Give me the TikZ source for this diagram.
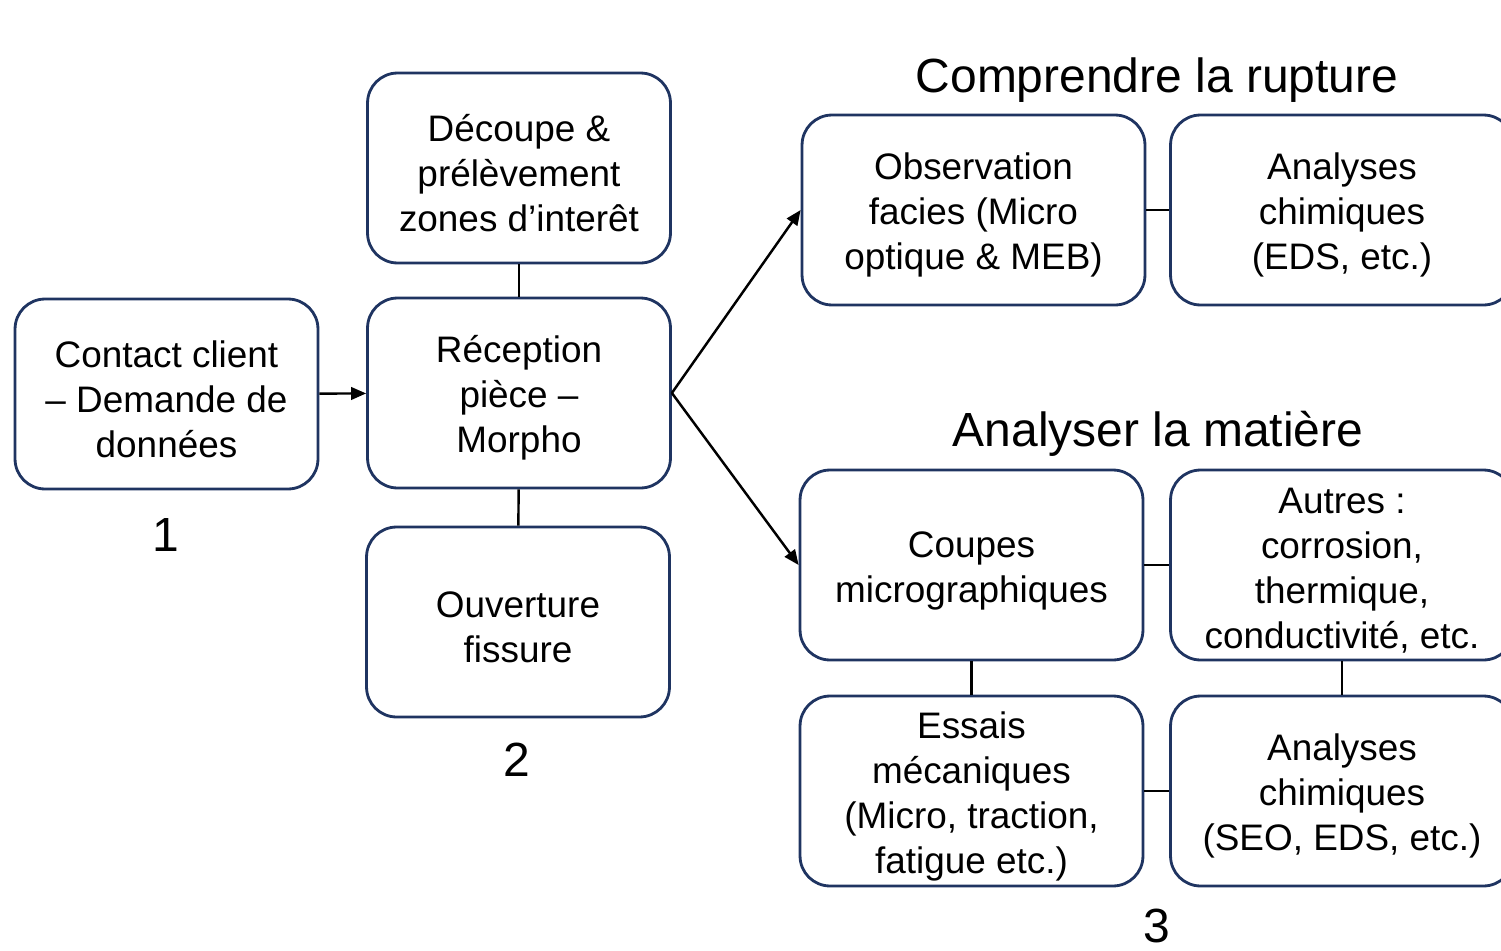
\documentclass[tikz,border=0pt]{standalone}
\usepackage{fontspec}
\setmainfont{Liberation Sans}
\usetikzlibrary{arrows.meta}
\definecolor{navy}{HTML}{1F3461}
\newcommand\tp{\rule{0pt}{21pt}}
\tikzset{
  box/.style={draw=navy, line width=1.6pt, rounded corners=0.6cm, minimum width=6.06cm, minimum height=3.8cm, align=center, inner sep=0pt, font=\fontsize{21}{25.6}\selectfont},
  wbox/.style={box, minimum width=6.86cm},
  title/.style={font=\fontsize{27.3}{32}\selectfont, inner sep=0pt},
  link/.style={line width=1.4pt, black},
  arr/.style={link, -{Triangle[length=0.3cm, width=0.25cm]}}
}
\begin{document}
\begin{tikzpicture}[x=0.02cm,y=-0.02cm]
\useasboundingbox (0,0) rectangle (1501,950);
\clip (0,0) rectangle (1501,950);
\node[box] (contact) at (166.5,394) {\tp Contact client\\– Demande de\\données};
\node[box] (decoupe) at (519,168) {\tp Découpe \&\\prélèvement\\zones d’interêt};
\node[box] (recep) at (519,393) {\tp Réception\\pièce –\\Morpho};
\node[box] (ouv) at (518,622) {\tp Ouverture\\fissure};
\node[wbox] (obs) at (973.5,210) {\tp Observation\\facies (Micro\\optique \& MEB)};
\node[wbox] (ana1) at (1342,210) {\tp Analyses\\chimiques\\(EDS, etc.)};
\node[wbox] (coupes) at (971.5,565) {\tp Coupes\\micrographiques};
\node[wbox] (autres) at (1342,565) {\tp Autres :\\corrosion,\\thermique,\\conductivité, etc.};
\node[wbox] (essais) at (971.5,791) {\tp Essais\\mécaniques\\(Micro, traction,\\fatigue etc.)};
\node[wbox] (ana2) at (1342,791) {\tp Analyses\\chimiques\\(SEO, EDS, etc.)};
\node[title] (t1) at (1157,80) {Comprendre la rupture};
\node[title] (t2) at (1158,434) {Analyser la matière};
\node[title] (n1) at (166,535) {1};
\node[title] (n2) at (517,760) {2};
\node[title] (n3) at (1157,926) {3};
\draw[arr] (contact) -- (recep);
\draw[link] (decoupe) -- (recep);
\draw[link] (recep) -- (ouv);
\draw[arr] (recep.east) -- (obs.west);
\draw[arr] (recep.east) -- (coupes.west);
\draw[link] (obs) -- (ana1);
\draw[link] (coupes) -- (autres);
\draw[link] (coupes) -- (essais);
\draw[link] (autres) -- (ana2);
\draw[link] (essais) -- (ana2);
\end{tikzpicture}
\end{document}
